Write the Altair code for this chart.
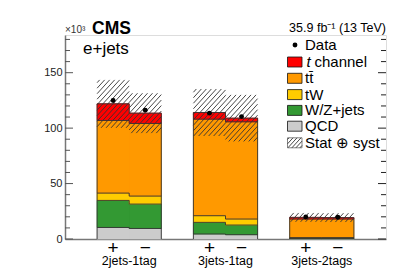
import math
import altair as alt
import pandas as pd

# ---------------- data ----------------
groups = ["2jets-1tag", "3jets-1tag", "3jets-2tags"]
charges = ["+", "\u2212"]
components = ["QCD", "W/Z+jets", "tW", "tt\u0304", "t channel"]
colors = ["#cccccc", "#339933", "#ffcc00", "#ff9900", "#ff0000"]

qcd = [10.4, 9.5, 4.5, 3.9, 0.3, 0.3]
wz = [24.4, 22.0, 10.5, 8.7, 0.5, 0.5]
tw = [6.6, 7.2, 6.0, 5.4, 0.4, 0.4]
ttbar = [65.5, 65.5, 87.1, 87.7, 16.8, 16.8]
tchan = [15.0, 9.3, 6.0, 3.3, 1.5, 1.3]
data_vals = [124.9, 116.2, 113.5, 110.4, 19.8, 19.6]
unc = [21.6, 18.0, 21.2, 21.0, 4.0, 4.0]

y_ticks_major = [0, 50, 100, 150]
y_ticks_minor = [10, 20, 30, 40, 60, 70, 80, 90, 110, 120, 130, 140, 160, 170, 180]

# ---------------- layout ----------------
W, H = 321, 204
XMAX, YMAX = 10, 184
sx, sy = W / XMAX, H / YMAX
FONT = "Liberation Sans"

xs = alt.Scale(domain=[0, XMAX], nice=False, zero=False, padding=0)
ys = alt.Scale(domain=[0, YMAX], nice=False, zero=False, padding=0)
cs = alt.Scale(domain=components, range=colors)

series = [qcd, wz, tw, ttbar, tchan]
totals = [sum(s[i] for s in series) for i in range(6)]
centers = [(i // 2) * 3 + 1 + (i % 2) + 0.5 for i in range(6)]

# stacked rectangles
rows = []
for i in range(6):
    xb = centers[i] - 0.5
    base = 0.0
    for comp, vals in zip(components, series):
        rows.append(dict(comp=comp, x0=xb, x1=xb + 1, lo=base, hi=base + vals[i]))
        base += vals[i]
stack = pd.DataFrame(rows)

# step polygons / outlines per channel group and cumulative level
arows = []
for g in range(3):
    lo = [0.0, 0.0]
    for k, (comp, vals) in enumerate(zip(components, series)):
        hp, hm = lo[0] + vals[2 * g], lo[1] + vals[2 * g + 1]
        key = f"{g}-{k}"
        for xe, l, h in [(g * 3 + 1, lo[0], hp), (g * 3 + 2, lo[1], hm), (g * 3 + 3, lo[1], hm)]:
            arows.append(dict(comp=comp, key=key, xe=xe, lo=l, hi=h))
        lo = [hp, hm]
line_df = pd.DataFrame(arows)

edge_rows = []
for g in range(3):
    edge_rows.append(dict(ex=g * 3 + 1, top=totals[2 * g]))
    edge_rows.append(dict(ex=g * 3 + 3, top=totals[2 * g + 1]))
edge_df = pd.DataFrame(edge_rows)


def hatch(X0, X1, Y0, Y1, s=5.0, k=1.1):
    """diagonal '/' hatch segments inside a pixel rectangle (y pointing up)"""
    segs = []
    c = math.floor((X0 - Y1 / k) / s) * s
    while c <= X1:
        xlo = max(X0, c + Y0 / k)
        xhi = min(X1, c + Y1 / k)
        if xhi - xlo > 0.3:
            segs.append((xlo, k * (xlo - c), xhi, k * (xhi - c)))
        c += s
    return segs


hrows = []
for i in range(6):
    xb = centers[i] - 0.5
    for (xa, ya, xb2, yb) in hatch(xb * sx, (xb + 1) * sx,
                                   (totals[i] - unc[i]) * sy, (totals[i] + unc[i]) * sy):
        hrows.append(dict(hx=xa / sx, hy=ya / sy, hx2=xb2 / sx, hy2=yb / sy))

stat_y = 107.8
LX0, LX1 = 222.5, 237.0
for (xa, ya, xb2, yb) in hatch(LX0, LX1, H - (stat_y + 5), H - (stat_y - 5), s=4.0):
    hrows.append(dict(hx=xa / sx, hy=ya / sy, hx2=xb2 / sx, hy2=yb / sy))
hatch_df = pd.DataFrame(hrows)

pts = pd.DataFrame({"xc": centers, "v": data_vals})

areas = alt.Chart(line_df).mark_area(interpolate="step-after", opacity=1).encode(
    x=alt.X("xe:Q", scale=xs,
            axis=alt.Axis(labels=False, ticks=False, grid=False, title=None,
                          domainColor="#777", domainWidth=1.5)),
    y=alt.Y("lo:Q", scale=ys, stack=None,
            axis=alt.Axis(values=y_ticks_major, ticks=False, grid=False, title=None,
                          labelFontSize=11, labelPadding=3, labelFont=FONT,
                          labelColor="#222", domainColor="#777", domainWidth=1.5)),
    y2="hi",
    fill=alt.Fill("comp:N", scale=cs, legend=None),
    detail="key:N",
)

bars = alt.Chart(stack).mark_rect(strokeWidth=0.7).encode(
    x=alt.X("x0:Q", scale=xs), x2="x1",
    y=alt.Y("lo:Q", scale=ys), y2="hi",
    color=alt.Color("comp:N", scale=cs, legend=None),
    stroke=alt.Stroke("comp:N", scale=cs, legend=None),
)
outlines = alt.Chart(line_df).mark_line(interpolate="step-after", color="#333", strokeWidth=0.9).encode(
    x=alt.X("xe:Q", scale=xs), y=alt.Y("hi:Q", scale=ys), detail="key:N", order="xe:Q")
edges = alt.Chart(edge_df).mark_rule(color="#333", strokeWidth=0.9).encode(
    x=alt.X("ex:Q", scale=xs), y=alt.Y("top:Q", scale=ys), y2=alt.datum(0))

one = pd.DataFrame({"a": [0]})

stat_box = alt.Chart(one).mark_rect(fill="white", stroke="#666", strokeWidth=0.8).encode(
    x=alt.value(LX0), x2=alt.value(LX1), y=alt.value(stat_y - 5), y2=alt.value(stat_y + 5))

hatch_layer = alt.Chart(hatch_df).mark_rule(stroke="#333", strokeWidth=0.9).encode(
    x=alt.X("hx:Q", scale=xs), x2="hx2", y=alt.Y("hy:Q", scale=ys), y2="hy2")

points = alt.Chart(pts).mark_circle(color="black", size=24, opacity=1).encode(
    x=alt.X("xc:Q", scale=xs), y=alt.Y("v:Q", scale=ys))

# axis ticks (inside, ROOT style)
maj = pd.DataFrame({"v": y_ticks_major})
mnr = pd.DataFrame({"v": y_ticks_minor})
tick_layers = []
for df, ln in [(maj, 8), (mnr, 5)]:
    tick_layers.append(alt.Chart(df).mark_rule(color="#555", strokeWidth=1).encode(
        y=alt.Y("v:Q", scale=ys), x=alt.value(0), x2=alt.value(ln)))
    tick_layers.append(alt.Chart(df).mark_rule(color="#222", strokeWidth=1).encode(
        y=alt.Y("v:Q", scale=ys), x=alt.value(W - ln), x2=alt.value(W)))

# x labels
ch_df = pd.DataFrame({"xc": centers, "lab": [charges[i % 2] for i in range(6)]})
ch_text = alt.Chart(ch_df).mark_text(font=FONT, fontSize=19, baseline="middle", color="black").encode(
    x=alt.X("xc:Q", scale=xs), y=alt.value(H + 9), text="lab:N")
grp_df = pd.DataFrame({"xc": [g * 3 + 2 for g in range(3)], "lab": groups})
grp_text = alt.Chart(grp_df).mark_text(font=FONT, fontSize=12.5, baseline="alphabetic", color="black").encode(
    x=alt.X("xc:Q", scale=xs), y=alt.value(H + 25.5), text="lab:N")


def label(txt, x, y, size, align="left", weight="normal", style="normal", color="black", baseline="alphabetic"):
    return alt.Chart(one).mark_text(font=FONT, fontSize=size, align=align, baseline=baseline,
                                    fontWeight=weight, fontStyle=style, color=color).encode(
        x=alt.value(x), y=alt.value(y), text=alt.value(txt))


texts = [
    label("\u00d710\u00b3", 0, -2, 10, color="#333"),
    label("CMS", 27, -1, 17.5, weight="bold"),
    label("35.9 fb\u207b\u00b9 (13 TeV)", W, -3, 12.5, align="right"),
    label("e+jets", 18, 19, 17),
]

# ---------------- legend ----------------
leg_rows_y = [27, 43.3, 59.6, 75.4, 91.2]
leg_comps = ["t channel", "tt\u0304", "tW", "W/Z+jets", "QCD"]
leg_df = pd.DataFrame({"comp": leg_comps, "yt": [y - 5 for y in leg_rows_y],
                       "yb": [y + 5 for y in leg_rows_y]})
leg_sw = alt.Chart(leg_df).mark_rect(stroke="#111", strokeWidth=0.8).encode(
    x=alt.value(LX0), x2=alt.value(LX1),
    y=alt.Y("yt:Q", scale=None), y2="yb",
    color=alt.Color("comp:N", scale=cs, legend=None))

leg_texts = [
    alt.Chart(one).mark_circle(color="black", size=24, opacity=1).encode(x=alt.value(230), y=alt.value(10)),
    label("Data", 240, 10, 15, baseline="middle"),
    label("t", 241.5, 27, 15, style="italic", baseline="middle"),
    label("channel", 249.5, 27, 15, baseline="middle"),
    label("tt\u0304", 240, 43.3, 15, baseline="middle"),
    label("tW", 240, 59.6, 15, baseline="middle"),
    label("W/Z+jets", 240, 75.4, 15, baseline="middle"),
    label("QCD", 240, 91.2, 15, baseline="middle"),
    label("Stat \u2295 syst", 240, stat_y, 15, baseline="middle"),
]

chart = alt.layer(
    areas, bars, outlines, edges, stat_box, hatch_layer, points, *tick_layers, ch_text, grp_text, *texts,
    leg_sw, *leg_texts,
).properties(
    width=W, height=H,
    autosize=alt.AutoSizeParams(type="none"),
    padding={"left": 57, "top": 27, "right": 13, "bottom": 29},
).configure_view(stroke="black", strokeWidth=1).configure(background="white")

chart.save("out.html", embed_options={"renderer": "svg", "actions": False})
